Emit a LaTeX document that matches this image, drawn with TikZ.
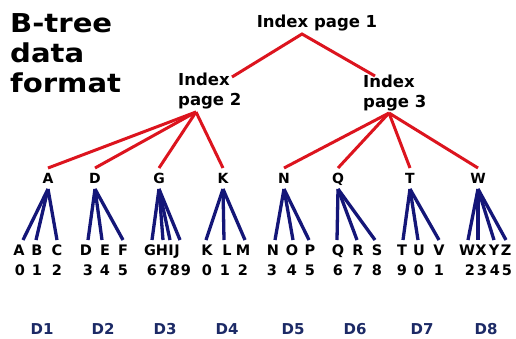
\documentclass[tikz,border=0pt]{standalone}
\usepackage{fontspec}
\setmainfont{DejaVu Sans}
\definecolor{treered}{HTML}{DC141E}
\definecolor{navy}{HTML}{141678}
\definecolor{dlabel}{HTML}{1C2A66}
\begin{document}
\begin{tikzpicture}[x=1pt,y=-1pt,
  title/.style={font=\fontsize{26}{30}\selectfont\bfseries, inner sep=0pt, anchor=north west, align=left},
  lbl/.style={font=\fontsize{16.5}{20}\selectfont\bfseries, inner sep=0pt, align=left},
  key/.style={font=\fontsize{14}{16}\selectfont\bfseries, inner sep=0pt, anchor=base},
  leaf/.style={font=\fontsize{14.5}{16}\selectfont\bfseries, inner sep=0pt, anchor=base},
  dl/.style={font=\fontsize{15}{18}\selectfont\bfseries, text=dlabel, inner sep=0pt, anchor=base},
  redl/.style={draw=treered, line width=3pt},
  bluel/.style={draw=navy, line width=3.3pt}]
\useasboundingbox (0,0) rectangle (516,338);
% title
\node[title] (ttl) at (10,13) {\scalebox{1.12}[1]{B-tree}\\\scalebox{1.12}[1]{data}\\\scalebox{1.12}[1]{format}};
% index pages
\node[lbl, anchor=base] (ip1) at (317,27) {Index page 1};
\node[lbl, anchor=north west] (ip2) at (178,73) {Index\\page 2};
\node[lbl, anchor=north west] (ip3) at (363,75) {Index\\page 3};
\coordinate (ip1b) at (302,34);
\coordinate (ip2t) at (232,77);
\coordinate (ip3t) at (375,76);
\coordinate (ip2b) at (196,112);
\coordinate (ip3b) at (389,113);
\draw[redl] (ip2t) -- (ip1b) -- (ip3t);
% keys
\foreach \n/\x in {A/48,D/95,G/159,K/223,N/284,Q/338,T/410,W/478}{
  \node[key] (k\n) at (\x,183) {\n};
  \coordinate (kt\n) at (\x,168);
  \coordinate (kb\n) at (\x,189);
}
\foreach \n in {A,D,G,K}{\draw[redl] (ip2b) -- (kt\n);}
\foreach \n in {N,Q,T,W}{\draw[redl] (ip3b) -- (kt\n);}
% leaves: key/letter/letter x/line end x/number/number x
\foreach \k/\n/\x/\e/\d/\dx in {
  A/A/19/23/0/20, A/B/37/36/1/37, A/C/57/57/2/57,
  D/D/86/88/3/88, D/E/105/102/4/105, D/F/123/123/5/123,
  G/G/150/152/6/152, G/H/162/163/7/164, G/I/171/170/8/175, G/J/177/180/9/186,
  K/K/207/206/0/207, K/L/227/224/1/225, K/M/243/245/2/243,
  N/N/273/275/3/272, N/O/292/293/4/292, N/P/310/309/5/310,
  Q/Q/338/337/6/338, Q/R/358/357/7/358, Q/S/377/375/8/377,
  T/T/402/403/9/402, T/U/419/418/0/419, T/V/439/439/1/439,
  W/W/467/468/2/470, W/X/481/478/3/482, W/Y/494/494/4/495, W/Z/506/506/5/507}{
  \node[leaf] (l\n) at (\x,255) {\n};
  \node[leaf] (n\n) at (\dx,275) {\d};
  \coordinate (le\n) at (\e,240);
  \draw[bluel] (kb\k) -- (le\n);
}
% D labels
\foreach \i/\x in {1/42,2/103,3/165,4/227,5/293,6/355,7/422,8/486}{
  \node[dl] (d\i) at (\x,334) {D\i};
}
\end{tikzpicture}
\end{document}
